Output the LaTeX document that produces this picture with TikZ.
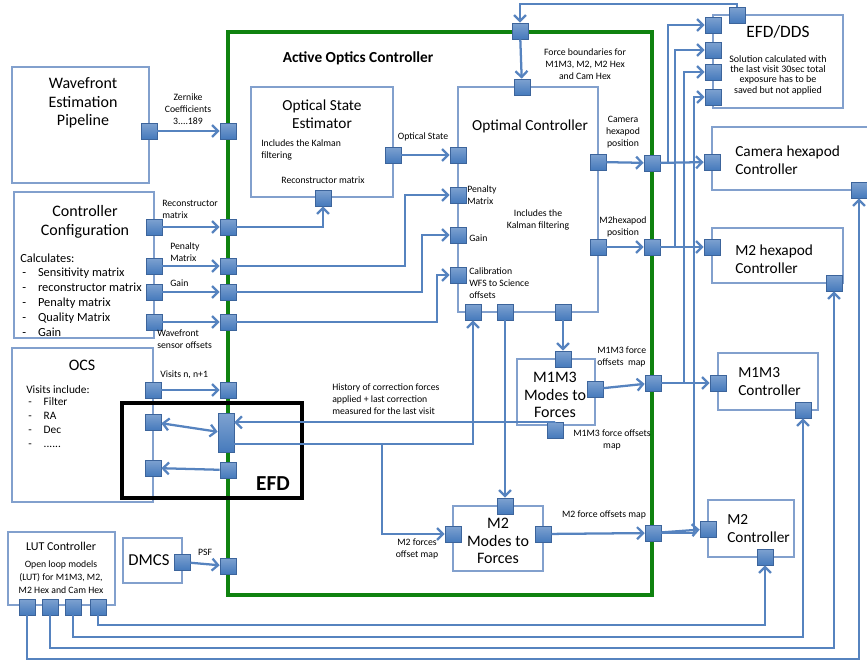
\documentclass[tikz,border=0pt]{standalone}
\usepackage{fontspec}
\setmainfont{Carlito}
\usetikzlibrary{arrows.meta,fit}

\definecolor{linkblue}{RGB}{86,131,191}
\definecolor{boxblue}{RGB}{130,160,205}
\definecolor{portfill}{RGB}{70,122,188}
\definecolor{portedge}{RGB}{60,100,155}
\definecolor{aocgreen}{RGB}{15,130,15}

\tikzset{
  box/.style={draw=boxblue, line width=1pt, inner sep=0pt},
  port/.style={draw=portedge, line width=0.5pt, top color=portfill!70!white, bottom color=portfill, minimum size=12pt, inner sep=0pt},
  tallport/.style={port, minimum height=29pt},
  link/.style={draw=linkblue, line width=1.7pt},
  lbl/.style={font=\fontsize{7.3}{9}\selectfont, align=center, inner sep=0pt},
  lbll/.style={lbl, align=left, anchor=west},
  ttl/.style={font=\fontsize{11.5}{13.5}\selectfont, align=center, inner sep=0pt},
  ttll/.style={ttl, align=left, anchor=west},
  lst/.style={font=\fontsize{9.3}{11.25}\selectfont, align=left, anchor=west, inner sep=0pt}
}

\begin{document}
\begin{tikzpicture}[x=0.75pt,y=0.75pt,yscale=-1,xscale=1,>={Straight Barb[length=4.5pt,width=9pt]}]
\useasboundingbox (0,0) rectangle (867,661);

%Active optics controller frame
\node[draw=aocgreen, line width=2.8pt, inner sep=0pt, fit={(228,32)(652,595)}] (aoc) {};
% Text Node
\node[font=\fontsize{11.5}{13}\selectfont\bfseries, inner sep=0pt] (aoctxt) at (358,58) {Active Optics Controller};

%Boxes
\node[box, fit={(12,67)(149,183)}] (wep) {};
\node[box, fit={(14,192)(154,338)}] (cfg) {};
\node[box, fit={(12,348)(153,502)}] (ocs) {};
\node[box, fit={(8,532)(115,605)}] (lut) {};
\node[box, fit={(123,538)(182,583)}] (dmcs) {};
\node[box, fit={(251,87)(393,197)}] (ose) {};
\node[box, fit={(458,87)(598,312)}] (opt) {};
\node[box, fit={(517,359)(595,425)}] (m13m) {};
\node[box, fit={(453,506)(543,571)}] (m2m) {};
\node[box, fit={(713,15)(843,108)}] (efddds) {};
\node[box, fit={(712,127)(885,190)}] (camc) {};
\node[box, fit={(712,228)(843,283)}] (m2hc) {};
\node[box, fit={(718,353)(818,410)}] (m13c) {};
\node[box, fit={(708,500)(794,557)}] (m2c) {};

%EFD frame
\node[draw=black, line width=2.4pt, inner sep=0pt, fit={(122,403)(302,498)}] (efd) {};
% Text Node
\node[font=\fontsize{16}{18}\selectfont\bfseries, inner sep=0pt] (efdtxt) at (273,484) {EFD};

% Text Node
\node[ttl, font=\fontsize{12}{14}\selectfont] (weptxt) at (83,103) {Wavefront\\Estimation\\Pipeline};
% Text Node
\node[ttl, font=\fontsize{12}{14}\selectfont] (cfgtxt) at (85,222) {Controller\\Configuration};
\node[lst] (calc) at (20,258) {Calculates:};
\node[lst] (calclist) at (22,302) {-\hspace{9pt}Sensitivity matrix\\-\hspace{9pt}reconstructor matrix\\-\hspace{9pt}Penalty matrix\\-\hspace{9pt}Quality Matrix\\-\hspace{9pt}Gain};
% Text Node
\node[ttl, font=\fontsize{12}{14}\selectfont] (ocstxt) at (82,365) {OCS};
\node[lst, font=\fontsize{8.5}{10.5}\selectfont] (visinc) at (26,390) {Visits include:};
\node[lst, font=\fontsize{8.5}{10.5}\selectfont] (vislist) at (28,423) {-\hspace{9pt}Filter\\-\hspace{9pt}RA\\-\hspace{9pt}Dec\\-\hspace{9pt}......};
% Text Node
\node[ttl, font=\fontsize{9}{11}\selectfont] (luttxt) at (61,546) {LUT Controller};
\node[lbl, font=\fontsize{7.3}{9.75}\selectfont] (lutsub) at (61,577) {Open loop models\\(LUT) for M1M3, M2,\\M2 Hex and Cam Hex};
\node[ttl, font=\fontsize{12.5}{14}\selectfont] (dmcstxt) at (149,560) {DMCS};
% Text Node
\node[ttl, font=\fontsize{11.5}{13.5}\selectfont] (osetxt) at (322,114) {Optical State\\Estimator};
\node[lbll] (osekal) at (261,150) {Includes the Kalman\\filtering};
\node[lbl] (oserec) at (323,180) {Reconstructor matrix};
% Text Node
\node[ttl] (opttxt) at (530,126) {Optimal Controller};
\node[lbl] (optkal) at (538,220) {Includes the\\Kalman filtering};
\node[lbll] (optpen) at (467,195) {Penalty\\Matrix};
\node[lbll] (optgain) at (469,238) {Gain};
\node[lbll] (optcal) at (469,283) {Calibration\\WFS to Science\\offsets};
% Text Node
\node[ttl, font=\fontsize{12}{13}\selectfont] (m13mtxt) at (555,395) {M1M3\\Modes to\\Forces};
\node[ttl, font=\fontsize{12}{13}\selectfont] (m2mtxt) at (498,541) {M2\\Modes to\\Forces};
% Text Node
\node[ttl, font=\fontsize{13}{15}\selectfont] (efdddstxt) at (778,32) {EFD/DDS};
\node[lbl, font=\fontsize{7.5}{7.8}\selectfont] (efdddssub) at (778,75) {Solution calculated with\\the last visit 30sec total\\exposure has to be\\saved but not applied};
\node[ttll] (camtxt) at (735,160) {Camera hexapod\\Controller};
\node[ttll] (m2htxt) at (735,259) {M2 hexapod\\Controller};
\node[ttll] (m13ctxt) at (738,382) {M1M3\\Controller};
\node[ttll] (m2ctxt) at (727,529) {M2\\Controller};

%Ports
\node[port] (wepo) at (149,131) {};
\node[port] (cfg1) at (154,227) {};
\node[port] (cfg2) at (154,266) {};
\node[port] (cfg3) at (154,292) {};
\node[port] (cfg4) at (154,322) {};
\node[port] (ocs1) at (153,390) {};
\node[port] (ocs2) at (153,422) {};
\node[port] (ocs3) at (153,468) {};
\node[port] (dmcso) at (182,562) {};
\node[port] (lut1) at (27,607) {};
\node[port] (lut2) at (50,607) {};
\node[port] (lut3) at (73,607) {};
\node[port] (lut4) at (98,607) {};
\node[port] (g1) at (228,131) {};
\node[port] (g2) at (228,227) {};
\node[port] (g3) at (228,266) {};
\node[port] (g4) at (228,292) {};
\node[port] (g5) at (228,322) {};
\node[port] (g6) at (228,390) {};
\node[tallport] (gtall) at (226,433) {};
\node[port] (g7) at (228,470) {};
\node[port] (g8) at (228,566) {};
\node[port] (gtop) at (520,31) {};
\node[port] (gr1) at (652,163) {};
\node[port] (gr2) at (652,247) {};
\node[port] (gr3) at (653,383) {};
\node[port] (gr4) at (653,533) {};
\node[port] (oseb) at (323,198) {};
\node[port] (oser) at (393,155) {};
\node[port] (optt) at (522,87) {};
\node[port] (optl1) at (458,155) {};
\node[port] (optl2) at (458,195) {};
\node[port] (optl3) at (458,235) {};
\node[port] (optl4) at (458,275) {};
\node[port] (optr1) at (598,162) {};
\node[port] (optr2) at (598,247) {};
\node[port] (optb1) at (473,312) {};
\node[port] (optb2) at (505,312) {};
\node[port] (optb3) at (563,312) {};
\node[port] (m13t) at (563,359) {};
\node[port] (m13r) at (595,389) {};
\node[port] (m13b) at (555,430) {};
\node[port] (m2t) at (505,506) {};
\node[port] (m2l) at (453,534) {};
\node[port] (m2r) at (543,534) {};
\node[port] (et) at (737,15) {};
\node[port] (e1) at (713,25) {};
\node[port] (e2) at (713,50) {};
\node[port] (e3) at (713,72) {};
\node[port] (e4) at (713,97) {};
\node[port] (camw) at (712,162) {};
\node[port] (camb) at (859,190) {};
\node[port] (m2hw) at (712,247) {};
\node[port] (m2hb) at (834,283) {};
\node[port] (m13w) at (718,383) {};
\node[port] (m13cb) at (803,410) {};
\node[port] (m2cw) at (708,529) {};
\node[port] (m2cb) at (765,557) {};

%Inputs to the controller
\draw[link,->] (wepo) -- (g1);
\draw[link,->] (cfg1) -- (g2);
\draw[link,->] (cfg2) -- (g3);
\draw[link,->] (cfg3) -- (g4);
\draw[link,->] (cfg4) -- (g5);
\draw[link,->] (ocs1) -- (g6);
\draw[link,<->] (ocs2) -- (gtall);
\draw[link,->] (g7) -- (ocs3);
\draw[link,->] (dmcso) -- (g8);

%Inside the controller
\draw[link,->] (g2) -| (oseb);
\draw[link,->] (g3) -- ++(177,0) |- (optl2);
\draw[link,->] (g4) -- ++(194,0) |- (optl3);
\draw[link,->] (g5) -- ++(209,0) |- (optl4);
\draw[link,->] (oser) -- (optl1);
\draw[link,->] (et) -- ++(0,-11) -| (gtop);
\draw[link,->] (gtop) -- (optt);
\draw[link,->] (optb2) -- (m2t);
\draw[link,->] (optb3) -- (m13t);
\draw[link,->] ([yshift=8pt]gtall.east) -| (optb1);
\draw[link,->] (m13b) |- ([yshift=-8pt]gtall.east);
\coordinate (split) at (382,444);
\draw[link,->] (split) |- (m2l);

%Outputs
\draw[link,->] (optr1) -- (gr1);
\draw[link,->] (optr2) -- (gr2);
\draw[link,->] (m13r) -- (gr3);
\draw[link,->] (m2r) -- (gr4);
\draw[link,->] (gr1) -- (camw);
\draw[link,->] (gr2) -- (m2hw);
\draw[link,->] (gr3) -- (m13w);
\draw[link,->] (gr4) -- (m2cw);
\draw[link,->] (gr1) -- ++(16,0) |- (e1);
\draw[link,->] (gr2) -- ++(23,0) |- (e2);
\draw[link,->] (gr3) -- ++(31,0) |- (e3);
\draw[link,->] (gr4) -- ++(41,0) |- (e4);

%LUT lines
\draw[link,->] (lut4) -- ++(0,18) -| (m2cb);
\draw[link,->] (lut3) -- ++(0,30) -| (m13cb);
\draw[link,->] (lut2) -- ++(0,41) -| (m2hb);
\draw[link,->] (lut1) -- ++(0,52) -| (camb);

% Text Node
\node[lbl] (zern) at (188,109) {Zernike\\Coefficients\\3....189};
\node[lbll] (recon) at (162,209) {Reconstructor\\matrix};
\node[lbll] (pen) at (170,252) {Penalty\\Matrix};
\node[lbll] (gain) at (170,283) {Gain};
\node[lbll] (wfs) at (157,339) {Wavefront\\sensor offsets};
\node[lbll] (visits) at (160,375) {Visits n, n+1};
\node[lbl] (psf) at (205,552) {PSF};
\node[lbl] (optstate) at (423,137) {Optical State};
\node[lbl] (force) at (585,64) {Force boundaries for\\M1M3, M2, M2 Hex\\and Cam Hex};
\node[lbl] (campos) at (623,132) {Camera\\hexapod\\position};
\node[lbl] (m2pos) at (623,227) {M2hexapod\\position};
\node[lbll] (m13map) at (597,357) {M1M3 force\\offsets\ \ map};
\node[lbl] (m13map2) at (612,440) {M1M3 force offsets\\map};
\node[lbll] (hist) at (332,399) {History of correction forces\\applied + last correction\\measured for the last visit};
\node[lbl] (m2map) at (417,549) {M2 forces\\offset map};
\node[lbl] (m2map2) at (604,515) {M2 force offsets map};

\end{tikzpicture}
\end{document}
